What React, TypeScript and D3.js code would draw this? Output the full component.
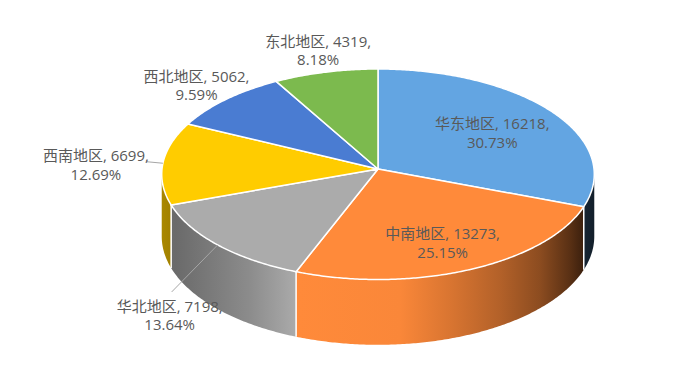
import * as React from "react";
import * as d3 from "d3";

// region names, sales values and slice colours
const regions = ["华东地区", "中南地区", "华北地区", "西南地区", "西北地区", "东北地区"];
const values = [16218, 13273, 7198, 6699, 5062, 4319];
const colors = ["#63A5E2", "#FF8A3A", "#ABABAB", "#FFCC00", "#4A7CD2", "#7CBA4E"];

// label placement: radius factor on the top ellipse + nudge, optional leader
const labelLayout = [
  { f: 0.65, dx: 2, dy: 0, leader: false },
  { f: 0.7, dx: 0, dy: 2, leader: false },
  { f: 1.0, dx: -48, dy: 69, leader: true },
  { f: 1.0, dx: -67, dy: 0, leader: true },
  { f: 1.2, dx: 1, dy: -1.5, leader: false },
  { f: 1.2, dx: 3, dy: -4, leader: false },
];

const width = 700;
const height = 386;
const cx = 378;
const cy = 169;
const rx = 216;
const ry = 105;
const depth = 62;
const persp = 0.05;

// side shading: darken amount along x
const shade: [number, number][] = [
  [160, 0.33],
  [175, 0.38],
  [250, 0.18],
  [297, 0.0],
  [400, 0.02],
  [450, 0.15],
  [500, 0.3],
  [540, 0.45],
  [570, 0.65],
  [585, 0.78],
  [596, 0.82],
];

function proj(a: number, r = 1, h = 0): [number, number] {
  const u = Math.sin(a);
  const v = -Math.cos(a);
  const s = 1 / (1 - persp * v);
  return [cx + rx * r * u * s, cy + ry * r * v * s + h * s];
}

function arcPoints(a0: number, a1: number, h = 0) {
  const n = Math.max(2, Math.ceil(Math.abs(a1 - a0) / 0.01));
  return d3.range(n + 1).map((i) => proj(a0 + ((a1 - a0) * i) / n, 1, h));
}

export default function App() {
  const pie = d3
    .pie<number>()
    .sort(null)
    .value((d) => d);
  const arcs = pie(values);
  const total = d3.sum(values);
  const pct = d3.format(".2%");

  // silhouette angles of the cylinder
  const samples = d3.range(0, 2 * Math.PI, 0.001);
  const aRight = samples[d3.maxIndex(samples, (a) => proj(a)[0])];
  const aLeft = samples[d3.minIndex(samples, (a) => proj(a)[0])];

  const line = d3.line();

  const sides = arcs
    .map((d, i) => {
      const a0 = Math.max(d.startAngle, aRight);
      const a1 = Math.min(d.endAngle, aLeft);
      if (a1 <= a0) return null;
      const top = arcPoints(a0, a1, 0);
      const bot = arcPoints(a1, a0, depth);
      return { i, d: line([...top, ...bot])! + "Z" };
    })
    .filter((s) => s !== null) as { i: number; d: string }[];

  const edges = arcs
    .map((d) => d.startAngle)
    .filter((a) => a > aRight && a < aLeft);

  const x0 = shade[0][0];
  const x1 = shade[shade.length - 1][0];

  return (
    <svg
      width={width}
      height={height}
      style={{ position: "absolute", left: 0, top: 0, background: "#fff" }}
    >
      <defs>
        {colors.map((c, i) => (
          <linearGradient
            key={i}
            id={`side${i}`}
            gradientUnits="userSpaceOnUse"
            x1={x0}
            x2={x1}
            y1={0}
            y2={0}
          >
            {shade.map(([x, t], j) => (
              <stop
                key={j}
                offset={(x - x0) / (x1 - x0)}
                stopColor={d3.interpolateRgb(c, "#000")(t)}
              />
            ))}
          </linearGradient>
        ))}
      </defs>

      {/* side walls */}
      {sides.map((s) => (
        <path key={s.i} d={s.d} fill={`url(#side${s.i})`} />
      ))}
      {edges.map((a, i) => {
        const p = proj(a, 1, 0);
        const q = proj(a, 1, depth);
        return (
          <line
            key={i}
            x1={p[0]}
            y1={p[1]}
            x2={q[0]}
            y2={q[1]}
            stroke="#fff"
            strokeWidth={1.5}
          />
        );
      })}

      {/* top face */}
      {arcs.map((d, i) => (
        <path
          key={i}
          d={line([[cx, cy], ...arcPoints(d.startAngle, d.endAngle)])! + "Z"}
          fill={colors[i]}
          stroke="#fff"
          strokeWidth={1.5}
          strokeLinejoin="round"
        />
      ))}

      {/* labels */}
      {arcs.map((d, i) => {
        const mid = (d.startAngle + d.endAngle) / 2;
        const L = labelLayout[i];
        const [px, py] = proj(mid, L.f);
        const lx = px + L.dx;
        const ly = py + L.dy;
        let leader = null;
        if (L.leader) {
          const end: [number, number] =
            L.dy > 20 ? [lx + 2, ly - 22] : [lx + 51, ly - 1.5];
          leader = (
            <line
              x1={px}
              y1={py}
              x2={end[0]}
              y2={end[1]}
              stroke="#A6A6A6"
              strokeWidth={1}
            />
          );
        }
        return (
          <g key={i}>
            {leader}
            <text
              x={lx}
              y={ly}
              textAnchor="middle"
              fontFamily="'Open Sans', 'Noto Sans CJK SC', sans-serif"
              fontSize={15}
              fill="#595959"
            >
              <tspan x={lx} dy="-0.15em">
                {`${regions[i]}, ${values[i]},`}
              </tspan>
              <tspan x={lx} dy="1.25em">
                {pct(values[i] / total)}
              </tspan>
            </text>
          </g>
        );
      })}
    </svg>
  );
}
